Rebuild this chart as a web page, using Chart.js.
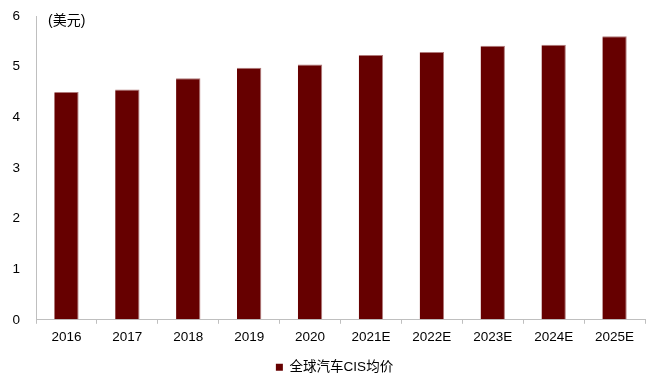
<!DOCTYPE html>
<html>
<head>
<meta charset="utf-8">
<script src="https://cdn.jsdelivr.net/npm/chart.js@4"></script>
<style>
  html, body { margin: 0; padding: 0; background: #fff; }
  #wrap { width: 652px; height: 388px; }
</style>
</head>
<body>
<div id="wrap"><canvas id="cisChart" width="652" height="388"></canvas></div>
<script>
const categories = ['2016', '2017', '2018', '2019', '2020', '2021E', '2022E', '2023E', '2024E', '2025E'];
const avgPrice = [4.50, 4.55, 4.77, 4.98, 5.04, 5.23, 5.29, 5.41, 5.43, 5.60];
const seriesName = '全球汽车CIS均价';
const unitLabel = '(美元)';

const fontFamily = '"Liberation Sans", Arial, "Noto Sans CJK SC", sans-serif';

// unit text in the top-left corner of the plot
const unitPlugin = {
    id: 'unitLabel',
    afterLayout(chart) {
        // legend sits a little right of the canvas centre in the original
        if (chart.legend) {
            chart.legend.left += 12;
            chart.legend.right += 12;
        }
    },
    afterDraw(chart) {
        const ctx = chart.ctx;
        ctx.save();
        ctx.font = '14px ' + fontFamily;
        ctx.fillStyle = '#000';
        ctx.textBaseline = 'middle';
        ctx.textAlign = 'left';
        ctx.fillText(unitLabel, chart.chartArea.left + 12, chart.chartArea.top + 5);
        ctx.restore();
    }
};

const ctx = document.getElementById('cisChart').getContext('2d');
new Chart(ctx, {
    type: 'bar',
    data: {
        labels: categories,
        datasets: [{
            label: seriesName,
            data: avgPrice,
            backgroundColor: '#660000',
            borderColor: '#b07a7a',
            borderWidth: { top: 1, right: 1, left: 0, bottom: 0 },
            borderSkipped: false,
            barPercentage: 0.8,
            categoryPercentage: 0.5
        }]
    },
    options: {
        responsive: false,
        animation: false,
        layout: { padding: { left: 0, right: 7, top: 16, bottom: 4 } },
        plugins: {
            legend: {
                position: 'bottom',
                labels: {
                    color: '#000',
                    font: { family: fontFamily, size: 13.5 },
                    boxWidth: 7,
                    boxHeight: 7,
                    padding: 9.5,
                    generateLabels: function (chart) {
                        return [{
                            text: seriesName,
                            fillStyle: '#660000',
                            strokeStyle: '#660000',
                            lineWidth: 0,
                            datasetIndex: 0
                        }];
                    }
                }
            },
            tooltip: { enabled: false }
        },
        scales: {
            x: {
                offset: true,
                grid: {
                    display: true,
                    offset: true,
                    drawOnChartArea: false,
                    drawTicks: true,
                    tickLength: 4,
                    color: '#bfbfbf'
                },
                border: { display: true, color: '#bfbfbf', width: 1 },
                ticks: {
                    color: '#000',
                    font: { family: fontFamily, size: 13.5 },
                    padding: 5.5,
                    maxRotation: 0
                }
            },
            y: {
                min: 0,
                max: 6,
                // invisible tick marks keep the labels away from the axis line
                grid: {
                    display: true,
                    drawOnChartArea: false,
                    drawTicks: true,
                    tickLength: 16,
                    tickColor: 'rgba(0,0,0,0)'
                },
                border: { display: true, color: '#bfbfbf', width: 1 },
                ticks: {
                    stepSize: 1,
                    color: '#000',
                    font: { family: fontFamily, size: 13.5 },
                    padding: 0
                },
                afterFit: function (scale) { scale.width = 36; }
            }
        }
    },
    plugins: [unitPlugin]
});
</script>
</body>
</html>
